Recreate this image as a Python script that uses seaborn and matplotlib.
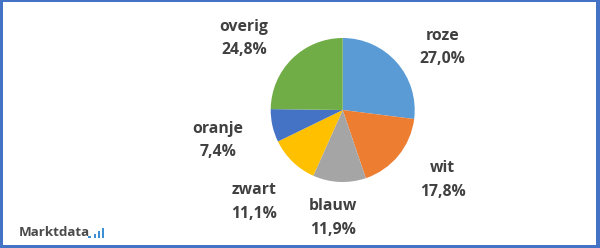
import matplotlib
matplotlib.use("Agg")
import matplotlib.pyplot as plt
import seaborn as sns
import numpy as np
from matplotlib.patches import Rectangle

categories = ["roze", "wit", "blauw", "zwart", "oranje", "overig"]
values = [27.0, 17.8, 11.9, 11.1, 7.4, 24.8]
pct_labels = ["27,0%", "17,8%", "11,9%", "11,1%", "7,4%", "24,8%"]
colors = ["#5B9BD5", "#ED7D31", "#A5A5A5", "#FFC000", "#4472C4", "#70AD47"]

# label anchor positions (in pie-radius units, relative to pie centre)
label_pos = [(1.39, 0.87), (1.39, -0.97), (-0.135, -1.50),
             (-1.23, -1.28), (-1.73, -0.42), (-1.37, 0.99)]

sns.set_theme(style="white")
plt.rcParams['font.family'] = ['Open Sans', 'DejaVu Sans']

W, H = 600, 248
fig = plt.figure(figsize=(W / 100, H / 100), dpi=100)
fig.patch.set_facecolor("white")
ax = fig.add_axes([0, 0, 1, 1])

wedges, _ = ax.pie(values, colors=colors, startangle=90, counterclock=False,
                   radius=1.0, wedgeprops=dict(linewidth=0))

# map: pie centre at (342.7, 110) px from top-left, radius 72 px
cx, cy, r = 342.7, 110.0, 72.0
ax.set_aspect('auto')
ax.set_xlim(-cx / r, (W - cx) / r)
ax.set_ylim(-(H - cy) / r, cy / r)
ax.axis('off')

for (x, y), name, pl in zip(label_pos, categories, pct_labels):
    ax.text(x, y, f"{name}\n{pl}", ha="center", va="center", fontsize=11.3,
            fontweight="bold", color="#404040", linespacing=1.62)

# border
bc = "#4472C4"
for (x0, y0, w0, h0) in [(0, 0, 3, H), (W - 4, 0, 4, H), (0, 0, W, 2), (0, H - 3, W, 3)]:
    fig.patches.append(Rectangle((x0 / W, 1 - (y0 + h0) / H), w0 / W, h0 / H,
                                 transform=fig.transFigure, facecolor=bc,
                                 edgecolor="none", zorder=10))

# logo
fig.text(19 / W, 1 - 233 / H, "Marktdata", ha="left", va="center", fontsize=9.6,
         fontweight="bold", color="#4a4a4a")
fig.patches.append(Rectangle((88 / W, 1 - 238 / H), 2.5 / W, 2.5 / H,
                             transform=fig.transFigure, facecolor="#3D8FD6", edgecolor="none"))
for bx, bh in [(94, 4), (98, 7), (102, 10)]:
    fig.patches.append(Rectangle((bx / W, 1 - 238 / H), 2 / W, bh / H,
                                 transform=fig.transFigure, facecolor="#3D8FD6", edgecolor="none"))

fig.savefig("out.png", dpi=100, facecolor="white")
